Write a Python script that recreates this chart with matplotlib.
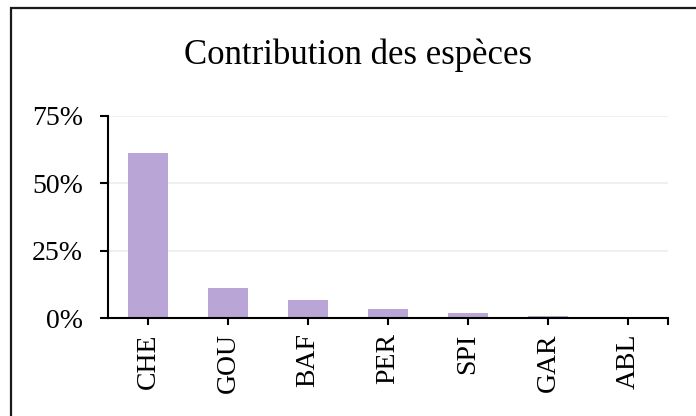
import matplotlib.pyplot as plt
from matplotlib.patches import Rectangle
from matplotlib.ticker import FuncFormatter

species = ["CHE", "GOU", "BAF", "PER", "SPI", "GAR", "ABL"]
contribution = [61.2, 11.0, 6.6, 3.3, 1.9, 0.85, 0.5]
yticks = [0, 25, 50, 75]

plt.rcParams['font.family'] = ['Liberation Serif', 'DejaVu Serif']

W, H = 696, 416
fig = plt.figure(figsize=(W / 100, H / 100), dpi=100)
ax = fig.add_axes([108 / W, 1 - 318 / H, (668 - 108) / W, (318 - 116) / H])

# frame round the chart (cut off at right and bottom in the original)
fig.patches.append(Rectangle((11 / W, -0.1), 1.2, 1 - 8 / H + 0.1,
                             transform=fig.transFigure, fill=False,
                             edgecolor='#1a1a1a', linewidth=1.6))

x = range(len(species))
ax.bar(x, contribution, width=0.49, color='#B9A6D6', zorder=2)

ax.set_xlim(-0.5, len(species) - 0.5)
ax.set_ylim(0, 75)
ax.set_yticks(yticks)
ax.yaxis.set_major_formatter(FuncFormatter(lambda v, p: f"{v:.0f}%"))
ax.set_xticks(list(x))
ax.set_xticklabels(species, rotation=90)
ax.set_xticks([len(species) - 0.5], minor=True)

ax.grid(axis='y', color='#ececec', linewidth=1.2, zorder=0)
for s in ['top', 'right']:
    ax.spines[s].set_visible(False)
ax.spines['left'].set_linewidth(1.5)
ax.spines['bottom'].set_linewidth(1.5)
ax.tick_params(axis='y', length=6, width=1.5, pad=12, labelsize=20)
ax.tick_params(axis='x', which='both', length=5, width=1.5, pad=6, labelsize=20)

fig.text(358 / W, 1 - 55 / H, "Contribution des espèces", ha='center', va='center',
         fontsize=25)

fig.savefig("out.png", dpi=100)
